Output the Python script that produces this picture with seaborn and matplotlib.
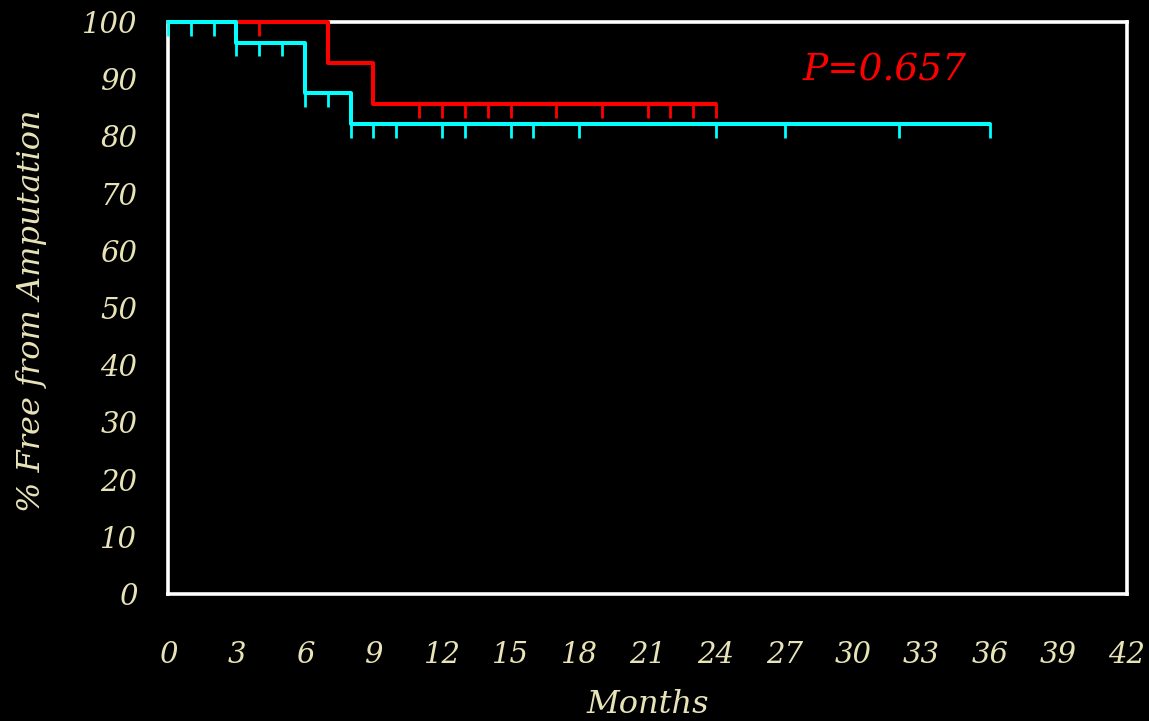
import numpy as np
import pandas as pd
import matplotlib
matplotlib.use("Agg")
import matplotlib.pyplot as plt
import seaborn as sns

# ---- data ----
cyan_times = [0, 3, 6, 8, 36]
cyan_surv = [100, 96.4, 87.6, 82.2, 82.2]
cyan_censor = [0, 1, 2, 3, 4, 5, 6, 7, 8, 9, 10, 12, 13, 15, 16, 18, 24, 27, 32, 36]

red_times = [0, 7, 9, 24]
red_surv = [100, 92.9, 85.7, 85.7]
red_censor = [4, 11, 12, 13, 14, 15, 17, 19, 21, 22, 23, 24]

x_ticks = list(range(0, 43, 3))
y_ticks = list(range(0, 101, 10))
p_text = "P=0.657"
x_label = "Months"
y_label = "% Free from Amputation"

TXT = "#e8e4b8"
CYAN = "#00ffff"
RED = "#ff0000"

sns.set_theme(style="dark")
plt.rcParams["font.family"] = ["DejaVu Serif"]

fig = plt.figure(figsize=(11.49, 7.21), dpi=100, facecolor="black")
ax = fig.add_axes([0.1462, 0.1761, 0.8347, 0.7934])
ax.set_facecolor("black")

def step_value(times, surv, t):
    idx = np.searchsorted(times, t, side="right") - 1
    return surv[idx]

for times, surv, cens, col, z in [(red_times, red_surv, red_censor, RED, 3),
                                  (cyan_times, cyan_surv, cyan_censor, CYAN, 4)]:
    df = pd.DataFrame({"t": times, "s": surv})
    sns.lineplot(data=df, x="t", y="s", drawstyle="steps-post", color=col,
                 linewidth=2.9, ax=ax, zorder=z, clip_on=False, estimator=None)
    ys = [step_value(times, surv, c) for c in cens]
    ax.vlines(cens, [y - 2.4 for y in ys], ys, colors=col, linewidth=2.0,
              zorder=z, clip_on=False)

ax.set_xlim(0, 42)
ax.set_ylim(0, 100)
ax.set_xticks(x_ticks)
ax.set_yticks(y_ticks)
ax.grid(False)
for sp in ax.spines.values():
    sp.set_visible(True)
    sp.set_color("white")
    sp.set_linewidth(2.6)
    sp.set_zorder(2)

ax.tick_params(axis="x", length=0, pad=34, labelsize=21, labelcolor=TXT)
ax.tick_params(axis="y", length=0, pad=22, labelsize=21, labelcolor=TXT)
for lab in ax.get_xticklabels() + ax.get_yticklabels():
    lab.set_fontstyle("italic")

ax.set_xlabel(x_label, fontsize=23, color=TXT, style="italic", va="center")
ax.set_ylabel(y_label, fontsize=23, color=TXT, style="italic", va="center")
ax.xaxis.set_label_coords(0.5, -0.193)
ax.yaxis.set_label_coords(-0.1418, 0.495)

ax.text(27.8, 91.6, p_text, color=RED, fontsize=27, style="italic",
        ha="left", va="center")

fig.savefig("out.png", dpi=100, facecolor="black")
